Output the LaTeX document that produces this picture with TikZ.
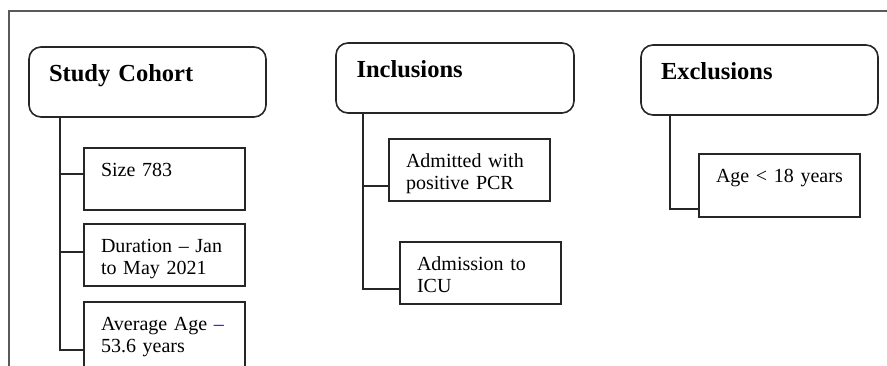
\documentclass[tikz,border=0pt]{standalone}
\usepackage{fontspec}
\setmainfont{Liberation Serif}
\usepackage{xcolor}
\usepackage{tikz}

\begin{document}
\begin{tikzpicture}[
        x=1pt, y=-1pt,
        every node/.style={anchor=north west, draw=black!85, line width=1.6pt, outer sep=0, inner ysep=0, align=left},
        head/.style={rounded corners=12pt, text width=197pt, inner xsep=20pt, text height=34pt, text depth=36pt, font=\fontsize{24.5}{28}\selectfont\bfseries},
        item/.style={text width=127pt, inner xsep=17pt, text height=28pt, text depth=34pt, font=\fontsize{20}{22.5}\selectfont},
        link/.style={line width=1.6pt, draw=black!85},
        frame/.style={line width=1.3pt, draw=black!65},
    ]
        \useasboundingbox (0,0) rectangle (887,365);
        \draw [frame] (9,370) -- (9,11) -- (890,11);

        \node [head] (cohort) at (29,47) {Study Cohort};
        \node [item] (size) at (84,148) {Size 783};
        \node [item] (dur) at (84,224) {Duration -- Jan\\to May 2021};
        \node [item, text depth=42pt] (avg) at (84,302) {Average Age {\color{blue}--}\\53.6 years};

        \node [head, minimum width=238pt] (incl) at (336,43) {Inclusions};
        \node [item] (adm) at (389,139) {Admitted with\\positive PCR};
        \node [item] (icu) at (400,242) {Admission to\\ICU};

        \node [head] (excl) at (641,45) {Exclusions};
        \node [item, text depth=35pt] (age) at (699,154) {Age < 18 years};

        \coordinate (c0) at ([xshift=31pt]cohort.south west);
        \coordinate (c1) at ([yshift=-26pt]size.north west);
        \coordinate (c2) at ([yshift=-28pt]dur.north west);
        \coordinate (c3) at ([yshift=-48pt]avg.north west);
        \draw [link] (c0) |- (c3);
        \draw [link] (c1) -- (c1 -| c0);
        \draw [link] (c2) -- (c2 -| c0);

        \coordinate (i0) at ([xshift=27pt]incl.south west);
        \coordinate (i1) at ([yshift=-47pt]adm.north west);
        \coordinate (i2) at ([yshift=-47pt]icu.north west);
        \draw [link] (i0) |- (i2);
        \draw [link] (i1) -- (i1 -| i0);

        \coordinate (e0) at ([xshift=29pt]excl.south west);
        \coordinate (e1) at ([yshift=-55pt]age.north west);
        \draw [link] (e0) |- (e1);
\end{tikzpicture}
\end{document}
